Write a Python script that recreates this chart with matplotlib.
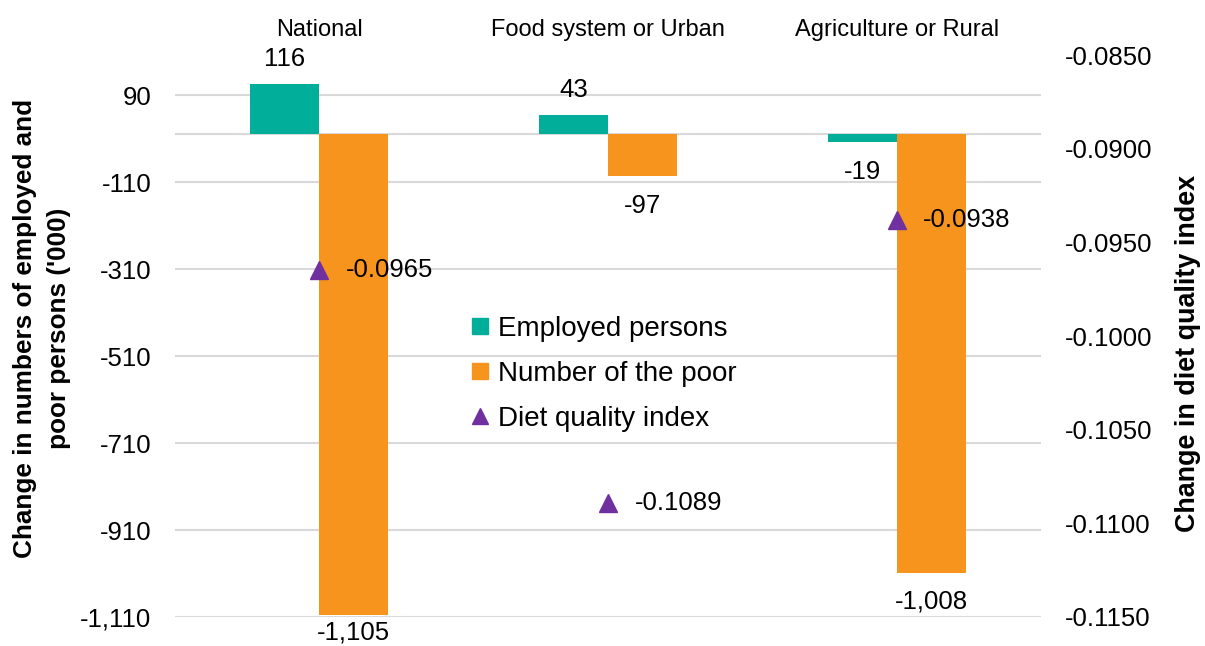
import numpy as np
import matplotlib
matplotlib.use('Agg')
import matplotlib.pyplot as plt
from matplotlib.lines import Line2D
from matplotlib.ticker import FuncFormatter

plt.rcParams['font.family'] = ['Liberation Sans', 'DejaVu Sans']

categories = ['National', 'Food system or Urban', 'Agriculture or Rural']
employed = [116, 43, -19]
poor = [-1105, -97, -1008]
diet = [-0.0965, -0.1089, -0.0938]
left_ticks = [90, -110, -310, -510, -710, -910, -1110]
right_ticks = [-0.085, -0.090, -0.095, -0.100, -0.105, -0.110, -0.115]

TEAL = '#00AE9A'
ORANGE = '#F7941D'
PURPLE = '#7030A0'
GRID = '#D9D9D9'

W, H = 1205, 646
fig = plt.figure(figsize=(W / 100, H / 100), dpi=100)
ax = fig.add_axes([175 / W, 1 - 617 / H, 866 / W, 562 / H])
ax2 = ax.twinx()

x = np.arange(len(categories))
bw = 0.239

ax.set_axisbelow(True)
ax.bar(x - bw / 2, employed, bw, color=TEAL, zorder=2)
ax.bar(x + bw / 2, poor, bw, color=ORANGE, zorder=2)
ax.axhline(0, color=GRID, lw=1.5, zorder=1)

for xi, v in zip(x - bw / 2, employed):
    off = 18 if v > 0 else -21
    ax.annotate(f'{v:,.0f}', (xi, v), xytext=(0, off), textcoords='offset points',
                ha='center', va='center', fontsize=18.5)
for xi, v in zip(x + bw / 2, poor):
    off = -13 if v < -1050 else -21
    ax.annotate(f'{v:,.0f}', (xi, v), xytext=(0, off), textcoords='offset points',
                ha='center', va='center', fontsize=18.5, annotation_clip=False)

ax.set_xlim(-0.5, len(categories) - 0.5)
ax.set_ylim(-1110, 182)
ax.set_yticks(left_ticks)
ax.yaxis.set_major_formatter(FuncFormatter(lambda v, p: f'{v:,.0f}'))
ax.grid(axis='y', color=GRID, lw=1.5)
ax.set_xticks(x)
ax.set_xticklabels(categories)
ax.xaxis.tick_top()
ax.tick_params(axis='x', length=0, pad=10, labelsize=17)
ax.tick_params(axis='y', length=0, pad=17, labelsize=18.5)

ax2.plot(x, diet, ls='none', marker='^', markersize=13, color=PURPLE, zorder=3)
for xi, v in zip(x, diet):
    ax2.annotate(f'{v:.4f}', (xi, v), xytext=(19, 0), textcoords='offset points',
                 ha='left', va='center', fontsize=18.5)
ax2.set_ylim(-0.115, -0.085)
ax2.set_yticks(right_ticks)
ax2.yaxis.set_major_formatter(FuncFormatter(lambda v, p: f'{v:.4f}'))
ax2.tick_params(axis='y', length=0, pad=17, labelsize=18.5)

for a in (ax, ax2):
    for s in a.spines.values():
        s.set_visible(False)

fig.text(42 / W, 1 - 328 / H, "Change in numbers of employed and\npoor persons ('000)",
         rotation=90, ha='center', va='center', fontsize=18.8, fontweight='bold',
         multialignment='center', linespacing=1.5)
fig.text(1188 / W, 1 - 353 / H, 'Change in diet quality index',
         rotation=90, ha='center', va='center', fontsize=19.4, fontweight='bold')

handles = [
    Line2D([], [], ls='none', marker='s', markersize=11, color=TEAL),
    Line2D([], [], ls='none', marker='s', markersize=11, color=ORANGE),
    Line2D([], [], ls='none', marker='^', markersize=12, color=PURPLE),
]
labels = ['Employed persons', 'Number of the poor', 'Diet quality index']
ax2.legend(handles, labels, loc='upper left', bbox_to_anchor=(470 / W, 1 - 316 / H),
           bbox_transform=fig.transFigure, frameon=False, fontsize=20,
           handlelength=0.7, handletextpad=0.3, labelspacing=0.68, borderpad=0,
           borderaxespad=0)

fig.savefig('out.png', dpi=100)
